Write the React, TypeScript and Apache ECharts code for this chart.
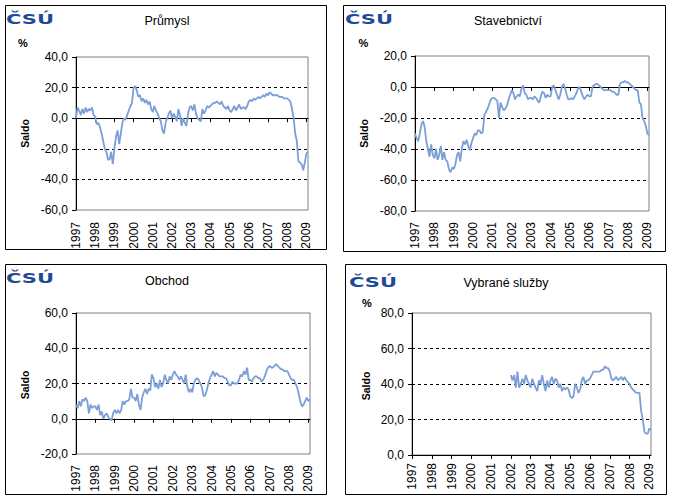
import React, { useEffect, useRef } from "react";
import * as echarts from "echarts";

const yearLabels = ["1997", "1998", "1999", "2000", "2001", "2002", "2003", "2004", "2005", "2006", "2007", "2008", "2009"];
const monthCount = 146; // Jan 1997 .. Feb 2009
const categories: string[] = [];
for (let i = 0; i < monthCount; i++) {
  const y = yearLabels[Math.floor(i / 12)];
  const m = String((i % 12) + 1).padStart(2, "0");
  categories.push(y + "-" + m);
}

const panelTitles = ["Průmysl", "Stavebnictví", "Obchod", "Vybrané služby"];
const yMins = [-60, -80, -20, 0];
const yMaxs = [40, 20, 60, 80];

const prumysl = [
  0, 7, 5, 2, 6, 3, 7, 4, 6, 5, 7, 2,
  1, -4, -3, -6, -10, -15, -20, -22, -27, -27, -22, -30,
  -20, -12, -8, -17, -10, -3, 0, -1, 2, 5, 8, 10,
  20, 21, 18, 14, 15, 11, 13, 10, 12, 9, 11, 6,
  4, 8, 5, 3, 0, -2, -8, -10, -3, 0, 3, 5,
  0, 3, 1, -2, 6, 2, -5, 0, -3, -5, 3, 7,
  8, 5, 9, 3, 0, -1, -2, 6, 3, 5, 8, 7,
  8, 9, 10, 10, 11, 10, 9, 11, 8, 7, 6, 8,
  5, 4, 6, 8, 5, 7, 9, 6, 7, 7, 6, 8,
  11, 12, 11, 13, 12, 13, 14, 13, 14, 15, 14, 16,
  15, 17, 16, 15, 15, 15, 15, 14, 14, 14, 13, 13,
  13, 12, 11, 6, 0, -10, -15, -28, -29, -30, -34, -29,
  -23, -22,
];

const stavebnictvi = [
  -30, -33, -35, -30, -24, -22, -26, -35, -40, -45, -37, -44,
  -46, -40, -47, -44, -38, -47, -42, -47, -48, -53, -55, -52,
  -53, -50, -44, -42, -48, -40, -35, -37, -34, -38, -41, -36,
  -33, -30, -31, -28, -28, -30, -29, -18, -16, -14, -11, -8,
  -7, -7, -8, -9, -20, -10, -13, -15, -14, -12, -8, -5,
  -2, -4, -8, -6, -5, -6, -1, 1, -4, -5, -8, -7,
  -7, -8, -6, -7, -9, -10, -6, -3, -4, -7, -5, -6,
  -6, 0, 1, -2, -5, -8, -5, 0, 2, -1, -5, -8,
  -8, -7, -8, -6, -4, -1, 0, -3, -6, -8, -6, -5,
  -6, -6, 0, 1, 2, 2, 1, 0, -1, -2, -2, -2,
  -2, -2, -3, -3, -4, -5, -5, 2, 3, 3, 4, 3,
  3, 2, 1, 0, -1, -2, -2, -10, -11, -20, -22, -25,
  -30, -31,
];

const obchod = [
  8, 6, 10, 7, 11, 10, 12, 10, 3, 8, 6, 7,
  7, 5, 8, 2, 4, 0, 2, 3, 1, 0, -1, 3,
  5, 3, 5, 3, 5, 10, 8, 10, 10, 11, 17, 12,
  12, 10, 14, 8, 5, 12, 15, 17, 14, 17, 16, 25,
  23, 18, 20, 17, 22, 18, 20, 25, 22, 20, 24, 22,
  25, 27, 25, 24, 22, 24, 22, 20, 25, 18, 15, 17,
  15, 20, 22, 23, 22, 20, 18, 13, 13, 16, 20, 23,
  25, 27, 24, 26, 25, 24, 24, 24, 23, 23, 21, 19,
  19, 21, 20, 20, 20, 22, 25, 24, 27, 25, 29, 22,
  22, 21, 23, 24, 24, 23, 23, 21, 22, 24, 27, 29,
  30, 29, 29, 30, 31, 30, 29, 28, 28, 27, 27, 27,
  25, 23, 22, 22, 20, 18, 14, 10, 7, 8, 10, 12,
  10, 11,
];

const sluzby = [
  null, null, null, null, null, null, null, null, null, null, null, null,
  null, null, null, null, null, null, null, null, null, null, null, null,
  null, null, null, null, null, null, null, null, null, null, null, null,
  null, null, null, null, null, null, null, null, null, null, null, null,
  null, null, null, null, null, null, null, null, null, null, null, null,
  45, 42, 45, 38, 47, 38, 40, 43, 40, 45, 42, 40,
  38, 43, 40, 38, 36, 42, 40, 45, 40, 36, 42, 38,
  42, 44, 40, 43, 42, 38, 40, 36, 38, 37, 38, 37,
  33, 32, 33, 40, 38, 35, 37, 42, 44, 40, 42, 42,
  43, 45, 47, 47, 47, 47, 47, 48, 48, 50, 49, 49,
  47, 43, 42, 43, 44, 42, 43, 44, 42, 44, 42, 41,
  40, 38, 37, 36, 35, 35, 35, 25, 20, 13, 12, 12,
  15, 14,
];

const seriesData = [prumysl, stavebnictvi, obchod, sluzby];

// layout (pixels)
const grids = [
  { left: 76, top: 57, width: 232, height: 153, labelMargin: 12 },
  { left: 415, top: 56, width: 234, height: 155, labelMargin: 11 },
  { left: 76, top: 313, width: 234, height: 141, labelMargin: 11 },
  { left: 412, top: 313, width: 239, height: 142, labelMargin: 8 },
];
const frames = [
  { x: 5.5, y: 5.5, w: 321, h: 244 },
  { x: 343.5, y: 5.5, w: 322, h: 246 },
  { x: 5.5, y: 264.5, w: 321, h: 230 },
  { x: 345.5, y: 264.5, w: 321, h: 230 },
];
const titlePos = [
  { x: 167, y: 21 },
  { x: 508, y: 21 },
  { x: 167, y: 281 },
  { x: 506, y: 283 },
];
const logoPos = [
  { x: 6, y: 19 },
  { x: 345, y: 19 },
  { x: 6, y: 278 },
  { x: 349, y: 282 },
];
const saldoPos = [
  { x: 24.5, y: 133.5 },
  { x: 364, y: 133.5 },
  { x: 25, y: 385 },
  { x: 366, y: 386 },
];
const percentPos = [
  { x: 23, y: 43 },
  { x: 363.5, y: 43 },
  null,
  { x: 367, y: 303 },
];

const FONT = "'Liberation Sans', Arial, sans-serif";
const LINE_COLOR = "#7b9fd6";

export default function App() {
  const ref = useRef<HTMLDivElement>(null);

  useEffect(() => {
    document.body.style.margin = "0";
    if (!ref.current) return;
    const chart = echarts.init(ref.current, undefined, { renderer: "svg" });

    const xAxis: any[] = [];
    const yAxis: any[] = [];
    const series: any[] = [];
    const graphic: any[] = [];

    grids.forEach((g, i) => {
      xAxis.push({
        type: "category",
        gridIndex: i,
        data: categories,
        boundaryGap: false,
        position: "bottom",
        axisLine: { show: true, onZero: true, lineStyle: { color: "#000", width: 1 } },
        axisTick: { show: true, interval: 11, length: 4, lineStyle: { color: "#000", width: 1 } },
        axisLabel: { show: false },
        splitLine: { show: false },
      });
      xAxis.push({
        type: "category",
        gridIndex: i,
        data: categories,
        boundaryGap: false,
        position: "bottom",
        axisLine: { show: false, onZero: false },
        axisTick: { show: false },
        splitLine: { show: false },
        axisLabel: {
          interval: 11,
          rotate: 90,
          margin: g.labelMargin,
          fontSize: 12,
          fontFamily: FONT,
          color: "#000",
          formatter: (v: string) => v.slice(0, 4),
        },
      });
      yAxis.push({
        type: "value",
        gridIndex: i,
        min: yMins[i],
        max: yMaxs[i],
        interval: 20,
        axisLine: { show: true, lineStyle: { color: "#000", width: 1 } },
        axisTick: { show: true, length: 4, lineStyle: { color: "#000" } },
        axisLabel: {
          fontSize: 12,
          fontFamily: FONT,
          color: "#000",
          margin: 8,
          formatter: (v: number) => v.toFixed(1).replace(".", ","),
        },
        splitLine: {
          show: true,
          showMinLine: false,
          showMaxLine: false,
          lineStyle: { color: "#000", width: 1, type: [3, 3] },
        },
      });
      series.push({
        type: "line",
        xAxisIndex: i * 2,
        yAxisIndex: i,
        data: seriesData[i],
        showSymbol: false,
        symbol: "none",
        connectNulls: false,
        lineStyle: { color: LINE_COLOR, width: 1.8 },
        z: 3,
      });

      const f = frames[i];
      graphic.push({
        type: "rect",
        shape: { x: f.x, y: f.y, width: f.w, height: f.h },
        style: { fill: "none", stroke: "#000", lineWidth: 1 },
        silent: true,
      });
      graphic.push({
        type: "text",
        x: titlePos[i].x,
        y: titlePos[i].y,
        style: {
          text: panelTitles[i],
          fontSize: 12.5,
          fontFamily: FONT,
          fill: "#000",
          textAlign: "center",
          textVerticalAlign: "middle",
        },
      });
      graphic.push({
        type: "text",
        x: logoPos[i].x,
        y: logoPos[i].y,
        scaleX: 1.5,
        style: {
          text: "ČSÚ",
          fontSize: 14,
          fontWeight: 900,
          fontFamily: "'DejaVu Sans', sans-serif",
          fill: "#1f4b96",
          textAlign: "left",
          textVerticalAlign: "middle",
        },
      });
      graphic.push({
        type: "text",
        x: saldoPos[i].x,
        y: saldoPos[i].y,
        rotation: Math.PI / 2,
        style: {
          text: "Saldo",
          fontSize: 10.5,
          fontWeight: "bold",
          fontFamily: FONT,
          fill: "#000",
          textAlign: "center",
          textVerticalAlign: "middle",
        },
      });
      const p = percentPos[i];
      if (p) {
        graphic.push({
          type: "text",
          x: p.x,
          y: p.y,
          style: {
            text: "%",
            fontSize: 11,
            fontWeight: "bold",
            fontFamily: FONT,
            fill: "#000",
            textAlign: "center",
            textVerticalAlign: "middle",
          },
        });
      }
    });

    chart.setOption({
      animation: false,
      backgroundColor: "#fff",
      grid: grids.map((g) => ({
        left: g.left,
        top: g.top,
        width: g.width,
        height: g.height,
        show: true,
        borderColor: "#808080",
        borderWidth: 1,
        backgroundColor: "transparent",
        containLabel: false,
      })),
      xAxis,
      yAxis,
      series,
      graphic,
    });

    return () => chart.dispose();
  }, []);

  return <div ref={ref} style={{ width: 673, height: 500, position: "absolute", left: 0, top: 0 }} />;
}
